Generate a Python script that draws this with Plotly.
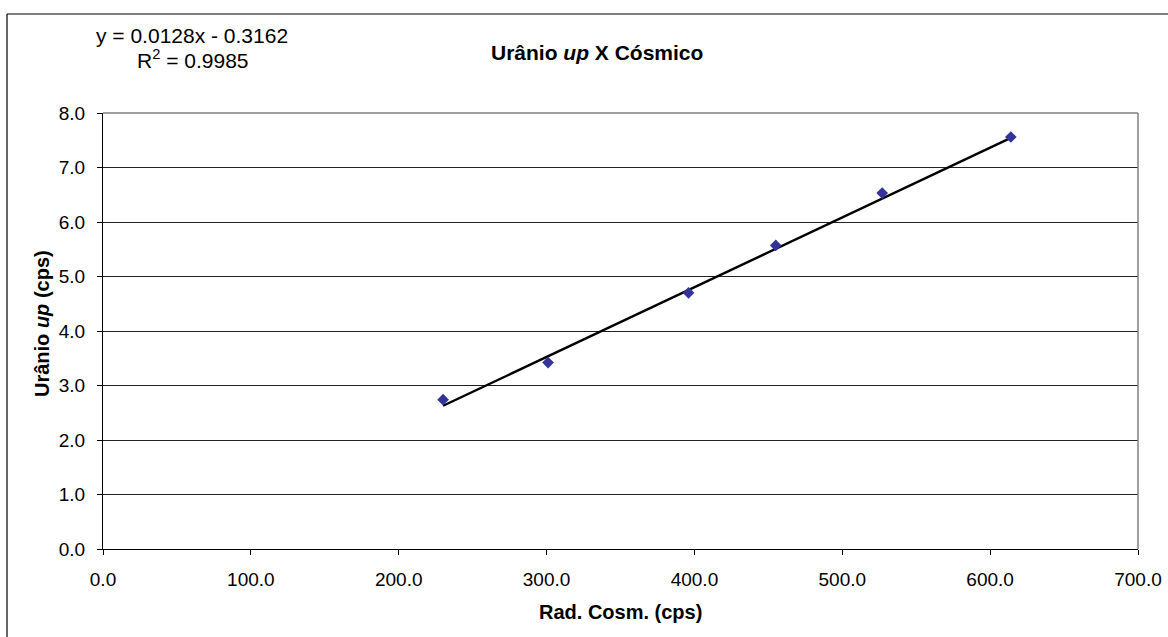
import plotly.graph_objects as go

# Data
rad_cosm = [230.0, 301.0, 396.0, 455.0, 527.0, 614.0]
uranio_up = [2.74, 3.42, 4.70, 5.57, 6.53, 7.56]

# Trendline coefficients as printed on the chart
slope = 0.0128
intercept = -0.3162
r2 = 0.9985

x_ticks = [0, 100, 200, 300, 400, 500, 600, 700]
y_ticks = [0, 1, 2, 3, 4, 5, 6, 7, 8]

FONT = "Liberation Sans, Arial, sans-serif"

L, T, W, H = 103, 113, 1035, 436


def px(xp):
    return (xp - L) / W


def py(yp):
    return (T + H - yp) / H


fig = go.Figure()

x0, x1 = min(rad_cosm), max(rad_cosm)
fig.add_trace(go.Scatter(
    x=[x0, x1], y=[slope * x0 + intercept, slope * x1 + intercept],
    mode="lines", line=dict(color="black", width=2.4),
    showlegend=False, hoverinfo="skip"))

fig.add_trace(go.Scatter(
    x=rad_cosm, y=uranio_up, mode="markers",
    marker=dict(symbol="diamond", size=9, color="#333399",
                line=dict(width=0)),
    showlegend=False))

fig.update_layout(
    width=1168, height=637,
    margin=dict(l=L, r=1168 - L - W, t=T, b=637 - T - H, autoexpand=False),
    paper_bgcolor="white", plot_bgcolor="white",
    font=dict(family=FONT, size=19, color="black"),
    xaxis=dict(
        range=[0, 700], tickvals=x_ticks,
        ticktext=[f"{v:.1f}" for v in x_ticks],
        showgrid=False, zeroline=False, automargin=False,
        showline=True, linecolor="black", linewidth=1, mirror=False,
        ticks="outside", ticklen=5, tickcolor="black",
        tickfont=dict(family=FONT, size=19),
        ticklabelstandoff=8,
    ),
    yaxis=dict(
        range=[0, 8], tickvals=y_ticks,
        ticktext=[f"{v:.1f}" for v in y_ticks],
        showgrid=True, gridcolor="#222222", gridwidth=1,
        zeroline=False, automargin=False,
        showline=True, linecolor="black", linewidth=1,
        ticks="outside", ticklen=5, tickcolor="black",
        tickfont=dict(family=FONT, size=19),
        ticklabelstandoff=8,
    ),
    shapes=[
        dict(type="line", xref="paper", yref="paper", x0=0, x1=1, y0=1, y1=1,
             line=dict(color="#808080", width=1.5)),
        dict(type="line", xref="paper", yref="paper", x0=1, x1=1, y0=0, y1=1,
             line=dict(color="#808080", width=1.5)),
        dict(type="line", xref="paper", yref="paper",
             x0=px(7), x1=px(1200), y0=py(14), y1=py(14),
             line=dict(color="black", width=1.2)),
        dict(type="line", xref="paper", yref="paper",
             x0=px(7), x1=px(7), y0=py(700), y1=py(14),
             line=dict(color="black", width=1.2)),
    ],
    annotations=[
        dict(text="<b>Urânio <i>up</i> X Cósmico</b>", xref="paper", yref="paper",
             x=px(597), y=py(52), xanchor="center", yanchor="middle",
             showarrow=False, font=dict(family=FONT, size=21)),
        dict(text=f"y = {slope}x - {abs(intercept)}", xref="paper", yref="paper",
             x=px(192), y=py(35), xanchor="center", yanchor="middle",
             showarrow=False, font=dict(family=FONT, size=21)),
        dict(text=f"R<sup>2</sup> = {r2}", xref="paper", yref="paper",
             x=px(193), y=py(59), xanchor="center", yanchor="middle",
             showarrow=False, font=dict(family=FONT, size=21)),
        dict(text="<b>Rad. Cosm. (cps)</b>", xref="paper", yref="paper",
             x=px(620), y=py(612), xanchor="center", yanchor="middle",
             showarrow=False, font=dict(family=FONT, size=20)),
        dict(text="<b>Urânio <i>up</i> (cps)</b>", xref="paper", yref="paper",
             x=px(42), y=py(324), xanchor="center", yanchor="middle",
             textangle=-90, showarrow=False, font=dict(family=FONT, size=20)),
    ],
)

fig.write_html("out.html")
